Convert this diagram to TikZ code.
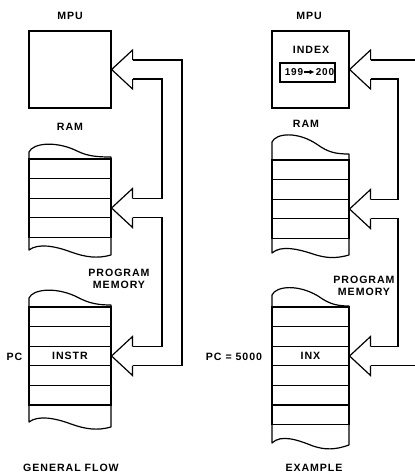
\documentclass[tikz,border=0pt]{standalone}
\usepackage{fontspec}
\setmainfont{Liberation Sans}[LetterSpace=9]
\usetikzlibrary{arrows.meta,calc,positioning}
\tikzset{
  every node/.style={font=\bfseries\fontsize{10.6}{12}\selectfont},
  mpubox/.style={draw=black, line width=1.2pt, inner sep=0pt},
  regbox/.style={draw=black, line width=1.3pt, inner sep=0pt, minimum width=55pt, minimum height=19pt},
  cellrow/.style={draw=black, line width=1.1pt, inner sep=0pt, minimum height=19.6pt},
  memline/.style={draw=black, line width=1.2pt, line join=round},
  busline/.style={draw=black, line width=1.2pt, line join=miter},
  valarrow/.style={-{Latex[length=5pt,width=5pt]}, line width=1.3pt, shorten <=1pt, shorten >=1pt},
  lbl/.style={inner sep=1pt, align=center},
  numlbl/.style={inner sep=0pt, font=\bfseries\fontsize{10}{12}\selectfont},
}
\begin{document}
\begin{tikzpicture}[x=1pt,y=-1pt]
  \useasboundingbox (0,0) rectangle (415,475);

  % MPU boxes
  \node[mpubox, minimum width=82pt, minimum height=77pt] (mpuL) at (70,69.5) {};
  \node[mpubox, minimum width=77pt, minimum height=77pt] (mpuR) at (310.5,69.5) {};
  \node[lbl] (mpuLt) at (70,16) {MPU};
  \node[lbl] (mpuRt) at (309,16) {MPU};
  \node[lbl] (index) at (311,50) {INDEX};
  \node[regbox] (idx) at (307.5,72.5) {};
  \node[numlbl] (n199) at (294,72) {199};
  \node[numlbl] (n200) at (325,72) {200};
  \draw[valarrow] (n199) -- (n200);

  % left RAM
  \node[lbl] (ramLt) at (70,127) {RAM};
  \draw[memline] (29,159) -- (29,152) .. controls (33,143) and (55,141) .. (75,150)
    .. controls (85,155) and (92,157) .. (111,157) -- (111,255)
    .. controls (97,259) and (85,257) .. (71,252) .. controls (55,246) and (38,243) .. (29,250) -- cycle;
  \foreach \k in {0,...,3}{\node[cellrow, minimum width=82pt] (ramL\k) at (70,168.8+19.6*\k) {};}

  % left program memory
  \node[lbl] (pmLt) at (119,279) {PROGRAM\\MEMORY};
  \draw[memline] (29,307) -- (29,298) .. controls (33,289) and (55,287) .. (75,296)
    .. controls (85,301) and (92,305) .. (111,305) -- (111,427)
    .. controls (97,431) and (85,429) .. (71,424) .. controls (55,418) and (38,415) .. (29,422) -- cycle;
  \foreach \k in {0,...,4}{\node[cellrow, minimum width=82pt] (pmL\k) at (70,316.8+19.6*\k) {};}
  \node[lbl] (instr) at (pmL2) {INSTR};
  \node[lbl] (pcL) at (14.5,357) {PC};

  % right RAM
  \node[lbl] (ramRt) at (306,124) {RAM};
  \draw[memline] (272,160) -- (272,142) .. controls (276,133) and (298,131) .. (318,145)
    .. controls (328,152) and (335,154) .. (349,154) -- (349,255)
    .. controls (335,259) and (325,258) .. (313,254) .. controls (298,249) and (281,245) .. (272,253) -- cycle;
  \foreach \k in {0,...,3}{\node[cellrow, minimum width=77pt] (ramR\k) at (310.5,169.8+19.6*\k) {};}

  % right program memory
  \node[lbl] (pmRt) at (364,285.5) {PROGRAM\\MEMORY};
  \draw[memline] (272,307) -- (272,295) .. controls (276,286) and (298,284) .. (318,296)
    .. controls (328,303) and (335,306) .. (349,306) -- (349,445)
    .. controls (335,450) and (325,450) .. (313,446) .. controls (298,440) and (281,434) .. (272,443) -- cycle;
  \foreach \k in {0,...,5}{\node[cellrow, minimum width=77pt] (pmR\k) at (310.5,316.8+19.6*\k) {};}
  \node[lbl] (inx) at (pmR2) {INX};
  \node[lbl] (pcR) at (234,357) {PC = 5000};

  % bus arrow heads
  \foreach \t/\u/\d in {mpuL.east/busMLu/busMLd, ramL2.east/busRLu/busRLd, pmL2.east/busPLu/busPLd,
                        mpuR.east/busMRu/busMRd, ramR2.east/busRRu/busRRd, pmR2.east/busPRu/busPRd}{
    \coordinate (\u) at ($(\t)+(21,-9.5)$);
    \coordinate (\d) at ($(\t)+(21,9.5)$);
    \draw[busline] (\u) -- ++(0,-10) -- (\t) -- ($(\t)+(21,19.5)$) -- (\d);
  }

  % bus columns
  \coordinate (colA) at (182,0);
  \coordinate (colB) at (162,0);
  \coordinate (colC) at (398,0);
  \coordinate (edge) at (415,0);
  \draw[busline] (busMLu) -- (busMLu -| colA) -- (busPLd -| colA) -- (busPLd);
  \draw[busline] (busMLd) -- (busMLd -| colB) -- (busRLu -| colB) -- (busRLu);
  \draw[busline] (busRLd) -- (busRLd -| colB) -- (busPLu -| colB) -- (busPLu);
  \draw[busline] (busMRd) -- (busMRd -| colC) -- (busRRu -| colC) -- (busRRu);
  \draw[busline] (busRRd) -- (busRRd -| colC) -- (busPRu -| colC) -- (busPRu);
  \draw[busline] (busMRu) -- (busMRu -| edge);
  \draw[busline] (busPRd) -- (busPRd -| edge);

  % captions
  \node[lbl] (capL) at (71,468) {GENERAL FLOW};
  \node[lbl] (capR) at (314,468) {EXAMPLE};
\end{tikzpicture}
\end{document}
